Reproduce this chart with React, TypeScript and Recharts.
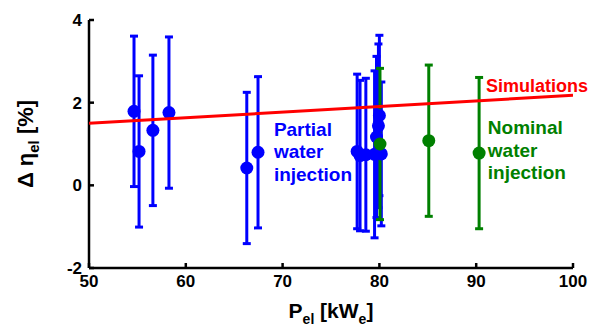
import { ScatterChart, Scatter, XAxis, YAxis, ErrorBar, ReferenceDot, Label } from 'recharts'

const FONT = '"Liberation Sans", Arial, sans-serif'

// partial water injection measurements
const partialX = [54.65, 55.17, 56.6, 58.26, 66.3, 67.46, 77.7, 78.0, 78.6, 79.5, 79.7, 79.9, 80.0, 80.2]
const partialY = [1.79, 0.82, 1.33, 1.76, 0.42, 0.8, 0.82, 0.72, 0.74, 0.75, 1.17, 1.44, 1.69, 0.76]
const partialErr = [1.82, 1.83, 1.82, 1.83, 1.83, 1.83, 1.87, 1.82, 1.85, 2.02, 1.95, 1.98, 1.94, 1.74]

// nominal water injection measurements
const nominalX = [80.06, 85.1, 90.3]
const nominalY = [1.0, 1.08, 0.78]
const nominalErr = [1.83, 1.83, 1.83]

// simulation line
const simX = [50, 100]
const simY = [1.5, 2.18]

const xTicks = [50, 60, 70, 80, 90, 100]
const yTicks = [-2, 0, 2, 4]

const partialData = partialX.map((x, i) => ({ x, y: partialY[i], err: partialErr[i] }))
const nominalData = nominalX.map((x, i) => ({ x, y: nominalY[i], err: nominalErr[i] }))
const simData = simX.map((x, i) => ({ x, y: simY[i] }))

// eslint-disable-next-line @typescript-eslint/no-explicit-any
const Dot = (p: any) => <circle cx={p.cx} cy={p.cy} r={6.5} fill={p.fill} />
const NoDot = () => <g />

function note(lines: string[], color: string, size = 19) {
  // eslint-disable-next-line @typescript-eslint/no-explicit-any
  return (p: any) => (
    <text x={p.viewBox.x} y={p.viewBox.y} fill={color} fontSize={size} fontWeight="bold" fontFamily={FONT}>
      {lines.map((l, i) => (
        <tspan key={l} x={p.viewBox.x} dy={i === 0 ? 0 : 22.5}>{l}</tspan>
      ))}
    </text>
  )
}

// eslint-disable-next-line @typescript-eslint/no-explicit-any
const XLabel = (p: any) => (
  <text x={p.viewBox.x + p.viewBox.width / 2} y={p.viewBox.y + 50} textAnchor="middle" fontSize={21} fontWeight="bold" fontFamily={FONT}>
    P<tspan fontSize={14} dy={6}>el</tspan>
    <tspan dy={-6}> [kW</tspan>
    <tspan fontSize={14} dy={6}>e</tspan>
    <tspan dy={-6}>]</tspan>
  </text>
)

// eslint-disable-next-line @typescript-eslint/no-explicit-any
const YLabel = (p: any) => {
  const cy = p.viewBox.y + p.viewBox.height / 2
  return (
    <text transform={`translate(33, ${cy}) rotate(-90)`} textAnchor="middle" fontSize={22} fontWeight="bold" fontFamily={FONT}>
      Δ η<tspan fontSize={15} dy={6}>el</tspan>
      <tspan dy={-6}> [%]</tspan>
    </text>
  )
}

const axisStyle = { stroke: '#000', strokeWidth: 2.5 }
const tickStyle = { fill: '#000', fontSize: 17, fontWeight: 'bold', fontFamily: FONT }

export default function App() {
  return (
    <div style={{ position: 'absolute', left: 0, top: 0 }}>
      <ScatterChart width={592} height={331} margin={{ top: 20, right: 19, bottom: 0, left: 0 }}>
        <XAxis
          type="number"
          dataKey="x"
          domain={[50, 100]}
          ticks={xTicks}
          interval={0}
          height={63}
          tickSize={-5}
          tickMargin={12}
          axisLine={axisStyle}
          tickLine={axisStyle}
          tick={tickStyle}
          allowDataOverflow
        >
          <Label content={XLabel} />
        </XAxis>
        <YAxis
          type="number"
          dataKey="y"
          domain={[-2, 4]}
          ticks={yTicks}
          interval={0}
          width={89}
          tickSize={-5}
          tickMargin={12}
          axisLine={axisStyle}
          tickLine={axisStyle}
          tick={tickStyle}
          allowDataOverflow
        >
          <Label content={YLabel} />
        </YAxis>
        <Scatter data={partialData} fill="#0000ff" shape={Dot} isAnimationActive={false}>
          <ErrorBar dataKey="err" direction="y" width={4} stroke="#0000ff" strokeWidth={3} />
        </Scatter>
        <Scatter data={nominalData} fill="#008000" shape={Dot} isAnimationActive={false}>
          <ErrorBar dataKey="err" direction="y" width={4} stroke="#008000" strokeWidth={3} />
        </Scatter>
        <Scatter
          data={simData}
          fill="#ff0000"
          line={{ stroke: '#ff0000', strokeWidth: 3 }}
          shape={NoDot}
          isAnimationActive={false}
        />
        <ReferenceDot x={69.1} y={1.2} r={0} label={{ content: note(['Partial', 'water', 'injection'], '#0000ff') }} />
        <ReferenceDot x={91.2} y={1.23} r={0} label={{ content: note(['Nominal', 'water', 'injection'], '#008000') }} />
        <ReferenceDot x={91.0} y={2.27} r={0} label={{ content: note(['Simulations'], '#ff0000', 18) }} />
      </ScatterChart>
    </div>
  )
}
